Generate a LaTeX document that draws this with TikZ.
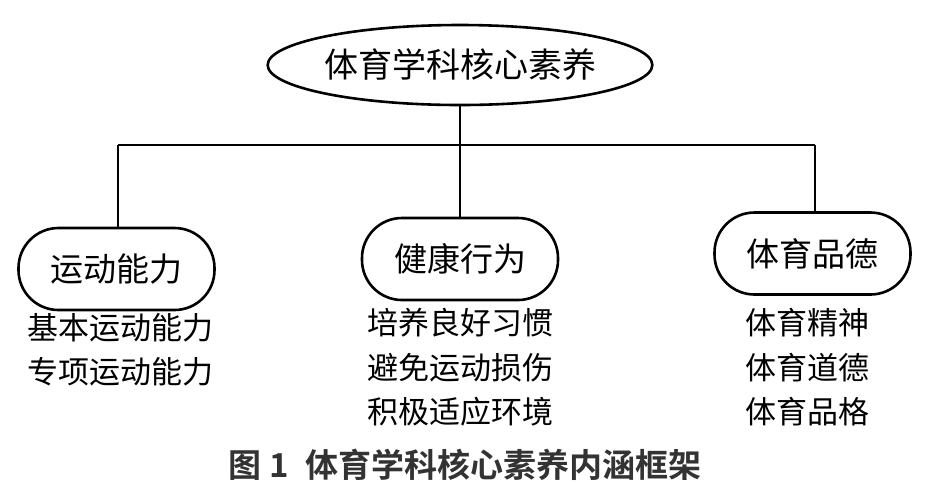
\documentclass[tikz,border=0pt]{standalone}
\usepackage{fontspec}
\newfontfamily\cjk{Noto Sans CJK SC}
\newfontfamily\cjkb{Noto Sans CJK SC Bold}
\usetikzlibrary{shapes.geometric}
\begin{document}
\begin{tikzpicture}[x=0.5pt,y=-0.5pt,
  ln/.style={line width=1.3pt},
  cat/.style={draw,line width=1.3pt,rounded corners=20pt,minimum width=98pt,minimum height=41pt,font=\cjk\fontsize{16.5}{19}\selectfont},
  itm/.style={font=\cjk\fontsize{15.5}{18}\selectfont}]
\useasboundingbox (0,0) rectangle (926,500);
\node[draw,ellipse,line width=1.3pt,minimum width=155pt,minimum height=40pt,inner sep=0pt,font=\cjk\fontsize{17}{20}\selectfont] (root) at (460,65) {体育学科核心素养};
\node[cat] (a) at (116.5,269) {运动能力};
\node[cat] (b) at (460,259) {健康行为};
\node[cat] (c) at (812.5,253.5) {体育品德};
\coordinate (j) at (460,145);
\coordinate (jl) at (118,145);
\coordinate (jr) at (815,145);
\draw[ln] (root.south) -- (j);
\draw[ln] (jl) -- (jr);
\draw[ln] (jl) -- (jl |- a.north);
\draw[ln] (j) -- (b.north);
\draw[ln] (jr) -- (jr |- c.north);
\node[itm] (a1) at (120,328) {基本运动能力};
\node[itm] (a2) at (120,372) {专项运动能力};
\node[itm] (b1) at (460,323) {培养良好习惯};
\node[itm] (b2) at (460,368) {避免运动损伤};
\node[itm] (b3) at (460,412) {积极适应环境};
\node[itm] (c1) at (807,323) {体育精神};
\node[itm] (c2) at (807,368) {体育道德};
\node[itm] (c3) at (807,412) {体育品格};
\node[font=\cjkb\fontsize{16.5}{19}\selectfont,text=black!80] (cap) at (465,465) {图 1\enspace 体育学科核心素养内涵框架};
\end{tikzpicture}
\end{document}
